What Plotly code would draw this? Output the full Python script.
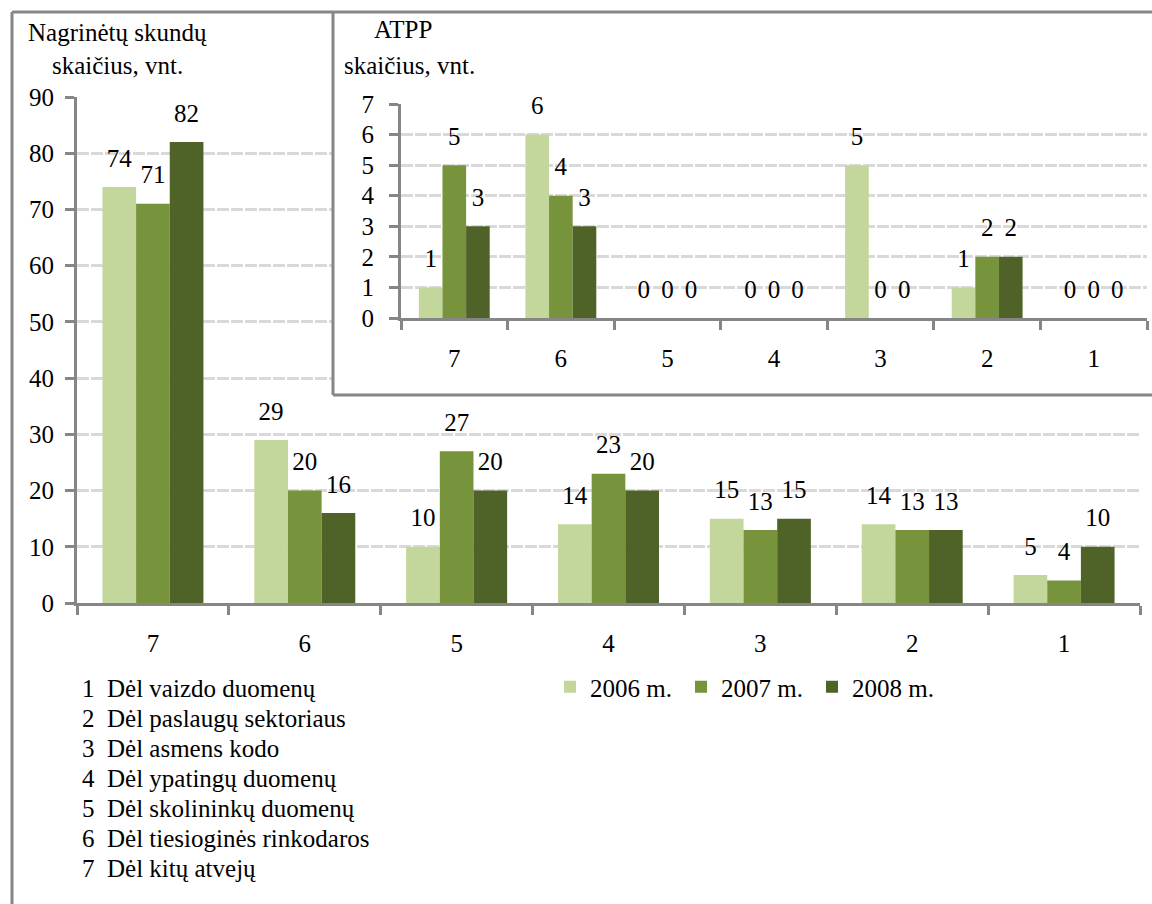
import plotly.graph_objects as go

# ---------------- data ----------------
categories = ["7", "6", "5", "4", "3", "2", "1"]
series_names = ["2006 m.", "2007 m.", "2008 m."]

complaints_2006 = [74, 29, 10, 14, 15, 14, 5]
complaints_2007 = [71, 20, 27, 23, 13, 13, 4]
complaints_2008 = [82, 16, 20, 20, 15, 13, 10]

atpp_2006 = [1, 6, 0, 0, 5, 1, 0]
atpp_2007 = [5, 4, 0, 0, 0, 2, 0]
atpp_2008 = [3, 3, 0, 0, 0, 2, 0]

main_ticks = [0, 10, 20, 30, 40, 50, 60, 70, 80, 90]
inset_ticks = [0, 1, 2, 3, 4, 5, 6, 7]

category_names = [
    "1\u00a0\u00a0Dėl vaizdo duomenų",
    "2\u00a0\u00a0Dėl paslaugų sektoriaus",
    "3\u00a0\u00a0Dėl asmens kodo",
    "4\u00a0\u00a0Dėl ypatingų duomenų",
    "5\u00a0\u00a0Dėl skolininkų duomenų",
    "6\u00a0\u00a0Dėl tiesioginės rinkodaros",
    "7\u00a0\u00a0Dėl kitų atvejų",
]

main_title = ["Nagrinėtų skundų", "skaičius, vnt."]
inset_title = ["ATPP", "skaičius, vnt."]

# ---------------- style ----------------
colors = ["#c3d69b", "#77933c", "#4f6228"]
FONT = "Liberation Serif, Times New Roman, Times, serif"
FS = 25
AXIS_COLOR = "#868686"
GRID_COLOR = "#d9d9d9"
W, H = 1152, 904
GAP = 0.335


def px_x(x):
    return x / W


def px_y(y):
    return 1 - y / H


fig = go.Figure()

main_series = [complaints_2006, complaints_2007, complaints_2008]
inset_series = [atpp_2006, atpp_2007, atpp_2008]


def add_group(series, xa, ya, legend):
    for name, vals, col in zip(series_names, series, colors):
        fig.add_trace(go.Bar(
            x=categories, y=vals, name=name,
            marker=dict(color=col, line=dict(width=0)),
            xaxis=xa, yaxis=ya, showlegend=legend, hoverinfo="skip",
        ))
    # value labels (grouped scatter text aligned with the bars)
    for name, vals in zip(series_names, series):
        fig.add_trace(go.Scatter(
            x=categories, y=vals, mode="markers+text",
            marker=dict(size=21, opacity=0, color="white"),
            text=[str(v) for v in vals], textposition="top center",
            textfont=dict(family=FONT, size=FS, color="black"),
            cliponaxis=False, xaxis=xa, yaxis=ya, showlegend=False, hoverinfo="skip",
        ))


add_group(main_series, "x", "y", True)

# blank cover subplot (white background hiding the main grid under the inset)
fig.add_trace(go.Scatter(x=[], y=[], xaxis="x2", yaxis="y2", showlegend=False,
                         hoverinfo="skip"))

add_group(inset_series, "x3", "y3", False)

common_x = dict(
    type="category", showline=True, linecolor=AXIS_COLOR, linewidth=3,
    ticks="outside", tickson="boundaries", ticklen=9, tickwidth=3, tickcolor=AXIS_COLOR,
    showgrid=False, zeroline=False, ticklabelstandoff=16, automargin=False,
    tickfont=dict(family=FONT, size=FS, color="black"),
)
common_y = dict(
    showline=True, linecolor=AXIS_COLOR, linewidth=3,
    ticks="outside", ticklen=9, tickwidth=3, tickcolor=AXIS_COLOR,
    showgrid=True, gridcolor=GRID_COLOR, gridwidth=3, griddash="12px,2px",
    zeroline=False, automargin=False,
    tickfont=dict(family=FONT, size=FS, color="black"),
)

fig.update_layout(
    template="none",
    width=W, height=H,
    margin=dict(l=0, r=0, t=0, b=0, autoexpand=False),
    paper_bgcolor="white", plot_bgcolor="white",
    barmode="group", bargap=GAP, bargroupgap=0,
    scattermode="group", scattergap=GAP,
    showlegend=True,
    legend=dict(orientation="h", x=px_x(550), xanchor="left", y=px_y(687), yanchor="middle",
                font=dict(family=FONT, size=FS, color="black"),
                entrywidth=86, entrywidthmode="pixels", traceorder="normal",
                bgcolor="rgba(0,0,0,0)", borderwidth=0),
    xaxis=dict(common_x, domain=[px_x(77), px_x(1140)], anchor="y"),
    yaxis=dict(common_y, domain=[px_y(603), px_y(97)], range=[0, 90], tickvals=main_ticks,
               anchor="x", ticklabelstandoff=6),
    xaxis2=dict(domain=[px_x(333), 1.0], anchor="y2", visible=False, range=[0, 1]),
    yaxis2=dict(domain=[px_y(395), px_y(12)], anchor="x2", visible=False, range=[0, 1]),
    xaxis3=dict(common_x, domain=[px_x(401), px_x(1147)], anchor="y3"),
    yaxis3=dict(common_y, domain=[px_y(318), px_y(104)], range=[0, 7], tickvals=inset_ticks,
                anchor="x3", ticklabelstandoff=10),
)

# frame lines
frame = [
    (12, 12, W, 12),
    (12, 12, 12, H),
    (333, 12, 333, 395),
    (333, 395, W, 395),
]
for x0, y0, x1, y1 in frame:
    fig.add_shape(type="line", xref="paper", yref="paper",
                  x0=px_x(x0), y0=px_y(y0), x1=px_x(x1), y1=px_y(y1),
                  line=dict(color=AXIS_COLOR, width=3), layer="above")

# titles
for i, t in enumerate(main_title):
    fig.add_annotation(text=t, xref="paper", yref="paper", x=px_x(117), y=px_y(32 + 34 * i),
                       xanchor="center", yanchor="middle", showarrow=False,
                       font=dict(family=FONT, size=FS, color="black"))
for i, (t, cx) in enumerate(zip(inset_title, [403, 409])):
    fig.add_annotation(text=t, xref="paper", yref="paper", x=px_x(cx), y=px_y(30 + 36 * i),
                       xanchor="center", yanchor="middle", showarrow=False,
                       font=dict(family=FONT, size=FS, color="black"))

# category explanation list
for i, t in enumerate(category_names):
    fig.add_annotation(text=t, xref="paper", yref="paper", x=px_x(80), y=px_y(688 + 30 * i),
                       xanchor="left", yanchor="middle", showarrow=False,
                       font=dict(family=FONT, size=FS, color="black"))

fig.write_html("out.html", config={"displayModeBar": False},
               post_script="document.body.style.margin='0px';")
